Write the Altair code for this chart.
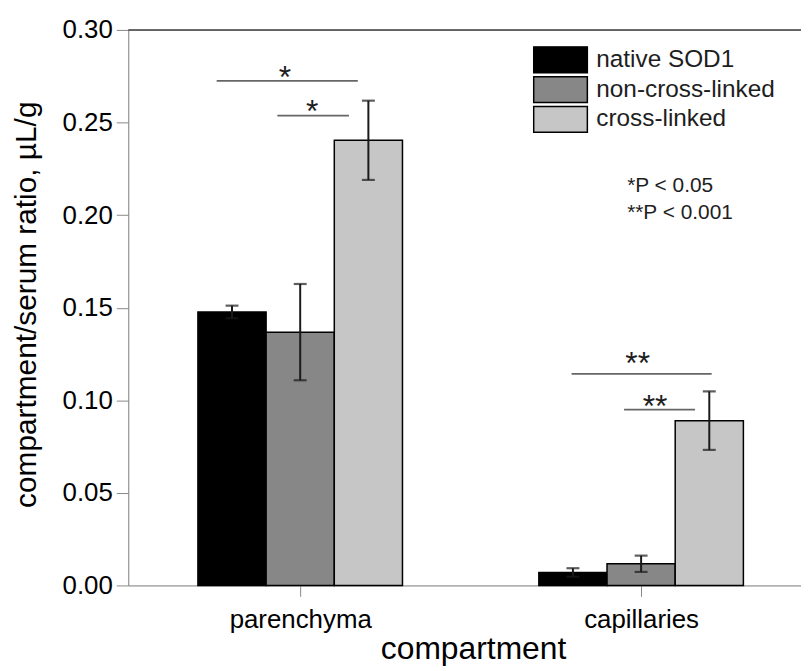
import altair as alt
import pandas as pd

# ---------------- data ----------------
compartments = ["parenchyma", "capillaries"]
series = ["native SOD1", "non-cross-linked", "cross-linked"]
colors = ["#000000", "#878787", "#c6c6c6"]

native_mean = [0.1477, 0.0070]
noncross_mean = [0.1368, 0.0117]
cross_mean = [0.2404, 0.0890]

native_err = [0.0034, 0.0023]
noncross_err = [0.0260, 0.0044]
cross_err = [0.0214, 0.0158]

y_ticks = [0.00, 0.05, 0.10, 0.15, 0.20, 0.25, 0.30]

# significance brackets (x in compartment units, 1 = parenchyma, 2 = capillaries)
sig_x1 = [0.755, 0.933, 1.796, 1.950]
sig_x2 = [1.169, 1.143, 2.207, 2.158]
sig_y = [0.2725, 0.2537, 0.1142, 0.0950]
sig_text = ["*", "*", "**", "**"]
sig_text_x = [0.955, 1.035, 1.990, 2.041]
sig_text_y = [0.2785, 0.2599, 0.1236, 0.1007]

note_text = ["*P < 0.05", "**P < 0.001"]
note_x = [1.959, 1.959]
note_y = [0.2157, 0.2010]

# ---------------- layout constants ----------------
X0, X1 = 0.4956, 2.469
W, H = 677, 559
group_pos = [1, 2]
series_offset = [-0.2, 0.0, 0.2]
half_w = 0.1
FONT = "Liberation Sans"
TXT = "#1e1e1e"
AX = "#3a3a3a"

means = [native_mean, noncross_mean, cross_mean]
errs = [native_err, noncross_err, cross_err]
rows = []
for gi, comp in enumerate(compartments):
    for si, s in enumerate(series):
        pos = group_pos[gi] + series_offset[si]
        m = means[si][gi]
        e = errs[si][gi]
        rows.append(dict(compartment=comp, series=s, pos=pos,
                         x1=pos - half_w, x2=pos + half_w,
                         base=0.0, mean=m, lo=m - e, hi=m + e))
df = pd.DataFrame(rows)

sig_df = pd.DataFrame(dict(x1=sig_x1, x2=sig_x2, y=sig_y, t=sig_text,
                           tx=sig_text_x, ty=sig_text_y))
note_df = pd.DataFrame(dict(t=note_text, x=note_x, y=note_y))

xscale = alt.Scale(domain=[X0, X1], nice=False, zero=False)
yscale = alt.Scale(domain=[0, 0.30], nice=False, zero=True)

label_expr = "[" + ",".join(f"'{c}'" for c in compartments) + "][datum.value - 1]"

x_axis = alt.Axis(values=group_pos, labelExpr=label_expr, title="compartment",
                  grid=False, tickSize=11, labelPadding=10, labelFontSize=26,
                  titleFontSize=32, titleFontWeight="normal", titleX=347, titleY=74,
                  titleBaseline="alphabetic", titleAlign="center")
y_axis = alt.Axis(values=y_ticks, format=".2f", title="compartment/serum ratio, µL/g",
                  grid=False, tickSize=12, labelPadding=4, labelFontSize=26,
                  titleFontSize=30, titleFontWeight="normal", titleX=-93, titleY=276,
                  titleBaseline="alphabetic", titleAlign="center")

bars = alt.Chart(df).mark_bar(stroke="black", strokeWidth=1.5).encode(
    x=alt.X("x1:Q", scale=xscale, axis=x_axis),
    x2="x2:Q",
    y=alt.Y("mean:Q", scale=yscale, axis=y_axis),
    y2="base:Q",
    fill=alt.Fill("series:N", sort=series,
                  scale=alt.Scale(domain=series, range=colors),
                  legend=alt.Legend(title=None, orient="none", legendX=407, legendY=15,
                                    symbolType="M-1,-0.48H1V0.48H-1Z", symbolSize=2916,
                                    symbolStrokeColor="black", symbolStrokeWidth=1.5,
                                    symbolOpacity=1, labelFont=FONT, labelFontSize=24.5,
                                    labelColor=TXT, labelOffset=8, labelLimit=400,
                                    clipHeight=30, rowPadding=0, padding=0)),
)

err_line = alt.Chart(df).mark_rule(color="#1a1a1a", strokeWidth=2).encode(
    x="pos:Q", y="lo:Q", y2="hi:Q")
cap_hi = alt.Chart(df).mark_tick(color="#1a1a1a", orient="horizontal", size=13,
                                 thickness=2.2).encode(x="pos:Q", y="hi:Q")
cap_lo = alt.Chart(df).mark_tick(color="#1a1a1a", orient="horizontal", size=13,
                                 thickness=2.2).encode(x="pos:Q", y="lo:Q")

sig_lines = alt.Chart(sig_df).mark_rule(color="#666666", strokeWidth=1.8).encode(
    x="x1:Q", x2="x2:Q", y="y:Q")
sig_stars = alt.Chart(sig_df).mark_text(font=FONT, fontSize=32, baseline="alphabetic",
                                        dy=18, color=TXT).encode(
    x="tx:Q", y="ty:Q", text="t:N")

notes = alt.Chart(note_df).mark_text(font=FONT, fontSize=21, align="left",
                                     baseline="middle", color=TXT).encode(
    x="x:Q", y="y:Q", text="t:N")

top_spine = alt.Chart(pd.DataFrame({"y": [0.30]})).mark_rule(
    color=AX, strokeWidth=1.6).encode(y="y:Q", x=alt.value(0), x2=alt.value(W))

chart = alt.layer(bars, err_line, cap_hi, cap_lo, sig_lines, sig_stars, notes, top_spine
).properties(
    width=W, height=H, autosize="none",
    padding={"left": 121, "top": 20, "right": 0, "bottom": 80},
).configure_view(stroke=None).configure_axis(
    domainColor=AX, domainWidth=1.6, tickColor=AX, tickWidth=1.6,
    labelFont=FONT, titleFont=FONT, labelColor=TXT, titleColor=TXT,
).configure(background="white")

chart.save("out.html", embed_options={"renderer": "svg", "actions": False})
